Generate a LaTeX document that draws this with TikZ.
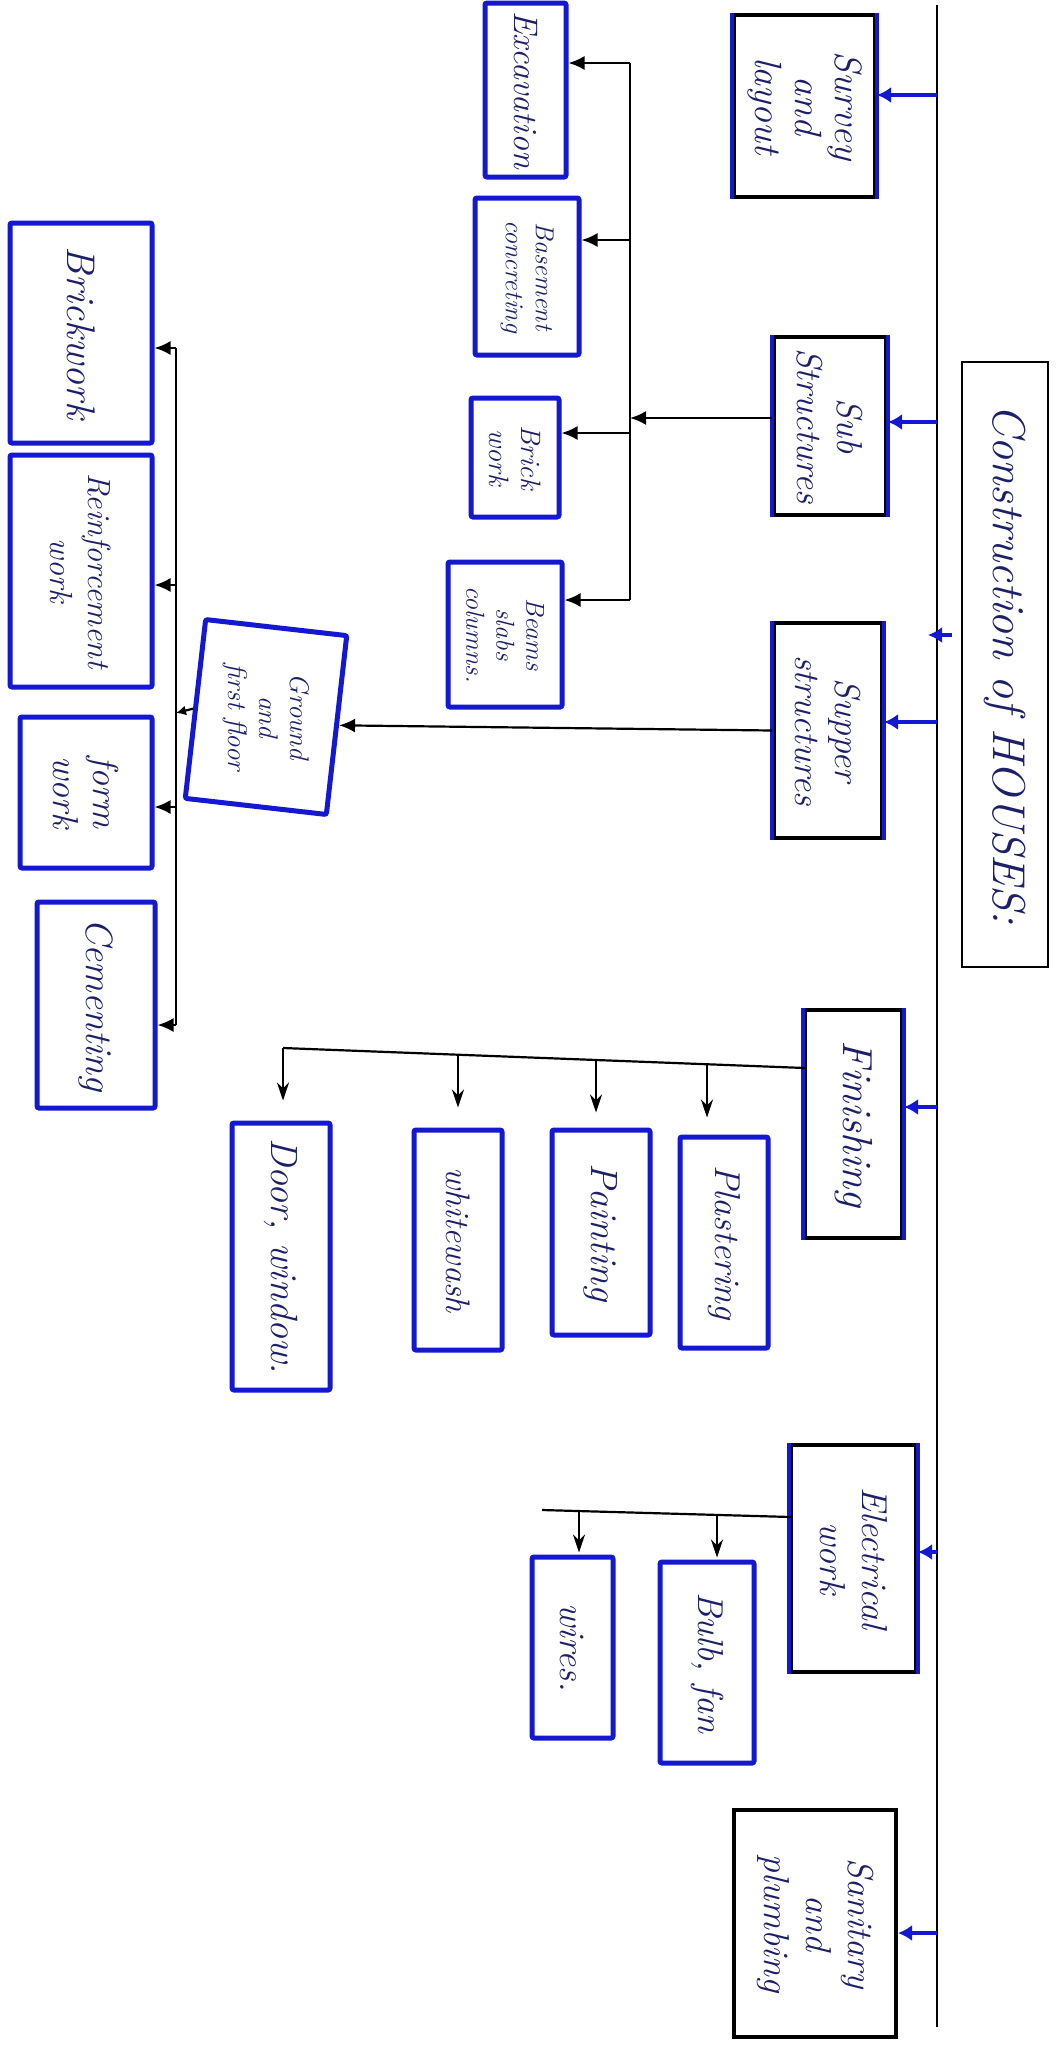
\documentclass[tikz,border=0pt]{standalone}
\usepackage{fontspec}
\usetikzlibrary{arrows.meta,calc}
\definecolor{boxblue}{RGB}{20,24,208}
\definecolor{ink}{RGB}{28,32,105}
\newcommand\fsz[2]{\fontsize{#1}{#2}\selectfont}
\tikzset{
 bx/.style={draw=boxblue, line width=5pt, inner sep=0pt, rounded corners=2pt},
 lvone/.style={draw=black, line width=4pt, inner sep=0pt},
 bside/.style={draw=boxblue, line width=3.5pt},
 txt/.style 2 args={rotate=-90, text=ink, font=\itshape\fsz{#1}{#2}, align=center, inner sep=0pt},
 conn/.style={draw=black, line width=2.2pt},
 arr/.style={conn, -{Latex[length=16pt,width=14pt]}},
 sarr/.style={conn, -{Latex[length=10pt,width=10pt]}},
 barr/.style={draw=boxblue, line width=4pt, -{Latex[length=14pt,width=16pt]}},
 darr/.style={draw=black, line width=2pt, -{Stealth[length=18pt,width=12pt]}},
}
\begin{document}
\begin{tikzpicture}[x=1pt,y=-1pt]
\useasboundingbox[fill=white] (0,0) rectangle (1056,2056);

% main spine
\coordinate (mtop) at (937,5);
\coordinate (mbot) at (937,2027);
\draw[conn, line width=2pt] (mtop) -- (mbot);

% title box
\node[lvone, line width=2pt, minimum width=86pt, minimum height=605pt] (cons) at (1005,664.5) {};
\node[txt={46}{50}] (cons-t) at (cons) {Construction of HOUSES:};

% level one boxes
\node[lvone, minimum width=141pt, minimum height=182pt] (survey) at (804.5,106) {};
\node[lvone, minimum width=112pt, minimum height=178pt] (sub) at (830,426) {};
\node[lvone, minimum width=108pt, minimum height=215pt] (super) at (828,730.5) {};
\node[lvone, minimum width=97pt, minimum height=228pt] (finishing) at (853.5,1124) {};
\node[lvone, minimum width=125pt, minimum height=227pt] (elec) at (853.5,1558.5) {};
\node[lvone, minimum width=162pt, minimum height=227pt] (sanit) at (815,1923.5) {};
\foreach \n in {survey,sub,super,finishing,elec}
  \draw[bside] (\n.north west) -- (\n.south west) (\n.north east) -- (\n.south east);

\node[txt={38}{40}] (survey-t) at (survey) {Survey\\and\\layout};
\node[txt={36}{40}] (sub-t) at (sub) {Sub\\Structures};
\node[txt={36}{40}] (super-t) at (super) {Supper\\structures};
\node[txt={42}{44}] (finishing-t) at (finishing) {Finishing};
\node[txt={36}{42}] (elec-t) at (elec) {Electrical\\work};
\node[txt={36}{42}] (sanit-t) at (sanit) {Sanitary\\and\\plumbing};

% spine arrows
\coordinate (m-survey) at (937,95);
\coordinate (m-sub) at (937,422);
\coordinate (m-stub) at (952,635);
\coordinate (m-stub2) at (928,635);
\coordinate (m-super) at (937,722);
\coordinate (m-fin) at (937,1107);
\coordinate (m-elec) at (937,1552);
\coordinate (m-sanit) at (937,1933);
\draw[barr] (m-survey) -- (m-survey -| survey.east);
\draw[barr] (m-sub) -- (m-sub -| sub.east);
\draw[barr] (m-stub) -- (m-stub2);
\draw[barr] (m-super) -- (m-super -| super.east);
\draw[barr] (m-fin) -- (m-fin -| finishing.east);
\draw[barr] (m-elec) -- (m-elec -| elec.east);
\draw[barr] (m-sanit) -- (m-sanit -| sanit.east);

% sub structures children
\node[bx, minimum width=81pt, minimum height=174pt] (excav) at (525.5,90) {};
\node[bx, minimum width=104pt, minimum height=157pt] (basement) at (527,276.5) {};
\node[bx, minimum width=88pt, minimum height=119pt] (brick) at (515,457.5) {};
\node[bx, minimum width=114pt, minimum height=145pt] (beams) at (505,634.5) {};
\node[txt={34}{36}] (excav-t) at (excav) {Excavation};
\node[txt={26}{30}] (basement-t) at (basement) {Basement\\concreting};
\node[txt={28}{32}] (brick-t) at (brick) {Brick\\work};
\node[txt={26}{30}] (beams-t) at (beams) {Beams\\slabs\\columns.};

\coordinate (sb-top) at (630,63);
\coordinate (sb-base) at (630,240);
\coordinate (sb-j) at (630,418);
\coordinate (sb-brick) at (630,433);
\coordinate (sb-bot) at (630,600);
\draw[conn] (sb-top) -- (sb-bot);
\draw[arr] (sb-top) -- (sb-top -| excav.east);
\draw[arr] (sb-base) -- (sb-base -| basement.east);
\draw[arr] (sb-brick) -- (sb-brick -| brick.east);
\draw[arr] (sb-bot) -- (sb-bot -| beams.east);
\draw[arr] (sb-j -| sub.west) -- (sb-j);

% super structures children
\node[bx, rotate=-6.5, minimum width=142pt, minimum height=180pt] (ground) at (266,717) {};
\node[txt={27}{31}] (ground-t) at (ground) {Ground\\and\\first floor};
\draw[arr] (super.west) -- (ground.east);

\node[bx, minimum width=142pt, minimum height=220pt] (brickwork) at (81,333) {};
\node[bx, minimum width=142pt, minimum height=232pt] (reinf) at (81,571) {};
\node[bx, minimum width=132pt, minimum height=151pt] (form) at (86,792.5) {};
\node[bx, minimum width=118pt, minimum height=206pt] (cement) at (96,1005) {};
\node[txt={40}{42}] (brickwork-t) at (brickwork) {Brickwork};
\node[txt={32}{38}] (reinf-t) at (reinf) {Reinforcement\\work};
\node[txt={36}{40}] (form-t) at (form) {form\\work};
\node[txt={38}{40}] (cement-t) at (cement) {Cementing};

\coordinate (gb-top) at (176,348);
\coordinate (gb-reinf) at (176,585);
\coordinate (gb-g) at (176,713);
\coordinate (gb-form) at (176,807);
\coordinate (gb-bot) at (176,1025);
\draw[conn] (gb-top) -- (gb-bot);
\draw[arr] (gb-top) -- (gb-top -| brickwork.east);
\draw[arr] (gb-reinf) -- (gb-reinf -| reinf.east);
\draw[arr] (gb-form) -- (gb-form -| form.east);
\draw[arr] (gb-bot) -- (gb-bot -| cement.east);
\draw[sarr] (ground.west) -- (gb-g);

% finishing children
\node[bx, minimum width=98pt, minimum height=267pt] (door) at (281,1256.5) {};
\node[bx, minimum width=88pt, minimum height=220pt] (white) at (458,1240) {};
\node[bx, minimum width=98pt, minimum height=205pt] (paint) at (601,1232.5) {};
\node[bx, minimum width=88pt, minimum height=211pt] (plaster) at (724,1242.5) {};
\node[txt={38}{40}] (door-t) at (door) {Door, window.};
\node[txt={34}{36}] (white-t) at (white) {whitewash};
\node[txt={38}{40}] (paint-t) at (paint) {Painting};
\node[txt={36}{38}] (plaster-t) at (plaster) {Plastering};

\coordinate (f0) at (805,1068);
\coordinate (f-door) at (283,1048);
\coordinate (f-white) at (458,1055);
\coordinate (f-paint) at (596,1060);
\coordinate (f-plast) at (707,1064);
\draw[conn] (f0) -- (f-door);
\draw[darr, shorten >=20pt] (f-door) -- (f-door |- door.north);
\draw[darr, shorten >=20pt] (f-white) -- (f-white |- white.north);
\draw[darr, shorten >=15pt] (f-paint) -- (f-paint |- paint.north);
\draw[darr, shorten >=17pt] (f-plast) -- (f-plast |- plaster.north);

% electrical children
\node[bx, minimum width=81pt, minimum height=181pt] (wires) at (572.5,1647.5) {};
\node[bx, minimum width=94pt, minimum height=201pt] (bulb) at (707,1662.5) {};
\node[txt={36}{38}] (wires-t) at (wires) {wires.};
\node[txt={36}{38}] (bulb-t) at (bulb) {Bulb, fan};

\coordinate (e0) at (791,1517);
\coordinate (e-end) at (542,1510);
\coordinate (e-bulb) at (717,1515);
\coordinate (e-wire) at (579,1511);
\draw[conn] (e0) -- (e-end);
\draw[darr, shorten >=2pt] (e-bulb) -- (e-bulb |- bulb.north);
\draw[darr, shorten >=2pt] (e-wire) -- (e-wire |- wires.north);
\end{tikzpicture}
\end{document}
